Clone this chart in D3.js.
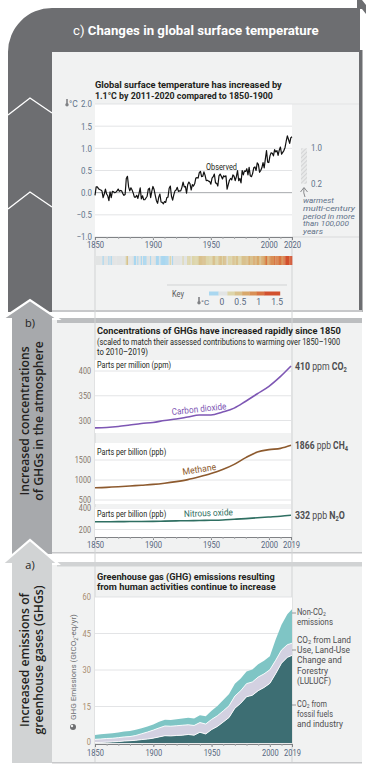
<!DOCTYPE html>
<html><head><meta charset="utf-8">
<script src="https://cdn.jsdelivr.net/npm/d3@7/dist/d3.min.js"></script>
<style>html,body{margin:0;padding:0;background:#fff;overflow:hidden}svg{display:block}</style>
</head><body>
<svg id="chart" width="366" height="768"></svg>
<script>
// ---------------- DATA ----------------
const tempStartYear = 1850;
const tempAnomaly = [
 -0.06,0.13,0.13,0.09,0.07,0.06,0.04,-0.11,-0.03,0.08,
 -0.03,-0.07,-0.18,0.02,-0.11,0.03,0.02,0.00,0.01,0.04,
 0.08,0.03,0.05,0.04,-0.02,-0.06,-0.04,0.32,0.37,0.13,
 0.04,0.11,0.06,-0.01,-0.10,-0.10,-0.06,-0.13,-0.02,0.11,
 -0.14,-0.07,-0.16,-0.16,-0.12,-0.08,0.08,0.10,-0.11,0.03,
 0.14,0.07,-0.06,-0.18,-0.24,-0.10,-0.03,-0.21,-0.22,-0.25,
 -0.20,-0.22,-0.11,-0.10,0.10,0.15,-0.08,-0.17,-0.05,0.04,
 0.06,0.12,0.03,0.04,0.04,0.12,0.24,0.13,0.14,-0.01,
 0.18,0.24,0.20,0.06,0.18,0.15,0.20,0.33,0.34,0.33,
 0.45,0.48,0.36,0.37,0.47,0.39,0.27,0.28,0.26,0.25,
 0.19,0.33,0.36,0.42,0.22,0.21,0.15,0.38,0.42,0.37,
 0.31,0.38,0.36,0.38,0.08,0.18,0.28,0.32,0.29,0.40,
 0.37,0.27,0.36,0.50,0.27,0.32,0.22,0.50,0.40,0.49,
 0.48,0.54,0.40,0.57,0.38,0.36,0.43,0.56,0.58,0.50,
 0.67,0.64,0.46,0.50,0.56,0.68,0.56,0.76,0.95,0.69,
 0.68,0.83,0.90,0.89,0.83,0.97,0.92,0.95,0.84,0.96,
 1.03,0.87,0.91,0.95,1.02,1.16,1.28,1.20,1.11,1.24,1.26
];
const tempTickYears = [1850,1900,1950,2000,2020];
const tempTicks = [2,1.5,1,0.5,0,-0.5,-1];
const warmPeriod = [0.2,1.0];
const warmText = ["warmest","multi-century","period in more","than 100,000","years"];
const keyTicks = [0,0.5,1,1.5];
const stripeBreaks = [-0.09,0.15,0.35,0.55,0.75,0.95,1.15];
const stripeColors = ['#a9d7f0','#e2e4e4','#ddd5aa','#d9c18d','#d8a86b','#d98f55','#d87342','#d2502e'];

const ghgYears = [1850,1860,1870,1880,1890,1900,1910,1920,1930,1940,1950,1960,1970,1980,1990,2000,2010,2019];
const co2ppm  = [285,286,288,291,294,296,300,303,307,311,311,317,325,339,354,369,389,410];
const ch4ppb  = [808,815,830,850,870,890,920,960,1010,1080,1160,1260,1390,1560,1700,1760,1790,1866];
const n2oppb  = [272,272,273,274,275,276,278,280,282,284,286,289,295,301,309,316,323,332];
const ghgTickYears = [1850,1900,1950,2000,2019];
const co2Ticks = [300,350,400];
const ch4Ticks = [500,1000,1500];
const n2oTicks = [200,400];

const emisYears  = [1850,1855,1860,1865,1870,1875,1880,1885,1890,1895,1900,1905,1910,1915,1920,1925,1930,1935,1940,1945,1950,1955,1960,1965,1970,1975,1980,1985,1990,1995,2000,2005,2010,2015,2019];
const emisFossil = [0.2,0.25,0.35,0.45,0.6,0.8,0.95,1.1,1.4,1.6,2.0,2.5,3.0,2.9,3.1,3.2,3.5,3.2,4.4,3.7,5.5,6.8,8.6,10.5,14.3,16.3,19.0,19.6,21.5,22.8,24.5,28.5,32.8,35.2,36.0];
const emisLand   = [1.3,1.4,1.5,1.5,1.6,1.7,1.7,2.0,2.4,2.9,3.3,3.7,4.0,4.0,4.0,4.1,4.0,4.0,4.0,4.1,4.2,4.4,4.6,4.8,5.0,5.2,5.4,5.5,5.6,5.6,5.6,5.5,5.4,5.2,5.0];
const emisNonCO2 = [1.8,1.9,2.0,2.1,2.1,2.2,2.3,2.3,2.3,2.3,2.3,2.5,2.6,2.6,2.7,2.8,2.9,2.9,3.0,3.2,3.6,4.0,4.5,4.8,5.0,5.0,5.0,5.1,5.3,5.4,5.6,8.5,10.4,12.5,14.0];
const emisTicks = [0,15,30,45,60];

// ---------------- SETUP ----------------
const FONT = "Roboto,'Liberation Sans',sans-serif";
const SANS = "'Open Sans','Noto Sans',sans-serif";
const svg = d3.select('#chart');
const DARK = '#231f20', GREY = '#58595b';

function fitX(t, x0, w, extra) {
  const L = t.node().getComputedTextLength();
  if (!w || !L) return t;
  const k = w / L;
  if (extra) t.attr('transform', `${extra} scale(${k},1)`);
  else t.attr('transform', `translate(${x0},0) scale(${k},1) translate(${-x0},0)`);
  return t;
}
function txt(g, x, y, s, o = {}) {
  const t = g.append('text').attr('x', x).attr('y', y).text(s)
    .attr('font-family', o.ff || FONT).attr('font-size', o.fs || 9)
    .attr('font-weight', o.fw || 'normal').attr('fill', o.fill || DARK)
    .attr('font-style', o.fst || 'normal')
    .attr('text-anchor', o.anchor || 'start');
  if (o.w) fitX(t, x, o.w);
  return t;
}
function condenseTicks(ax, k) {
  ax.selectAll('text').attr('transform', function () {
    const x = +d3.select(this).attr('x') || 0;
    return `translate(${x},0) scale(${k},1) translate(${-x},0)`;
  });
}

const defs = svg.append('defs');
const pat = defs.append('pattern').attr('id', 'hatch').attr('width', 3).attr('height', 3)
  .attr('patternUnits', 'userSpaceOnUse').attr('patternTransform', 'rotate(45)');
pat.append('rect').attr('width', 3).attr('height', 3).attr('fill', '#e9eaea');
pat.append('line').attr('x1', 0).attr('y1', 0).attr('x2', 0).attr('y2', 3).attr('stroke', '#c4c5c7').attr('stroke-width', 1.2);

// ---------------- FRAMES ----------------
svg.append('path').attr('d', 'M8,312 V52 A44,44 0 0 1 52,8 H360 V52 H52 V312 Z').attr('fill', '#6d6e71');
svg.append('rect').attr('x', 359).attr('y', 50).attr('width', 3.5).attr('height', 262).attr('fill', '#6d6e71');
svg.append('path').attr('d', 'M357,0 H362 L366,5 V14 L362,9 H357 Z').attr('fill', '#6d6e71');
svg.append('rect').attr('x', 52).attr('y', 52).attr('width', 307).attr('height', 258).attr('fill', '#f1f2f2');
svg.append('rect').attr('x', 52).attr('y', 310).attr('width', 310).attr('height', 2).attr('fill', '#c7c8ca');
[98, 192].forEach(t => {
  svg.append('path').attr('d', `M8,${t + 17} L30,${t} L52,${t + 15}`).attr('fill', 'none')
    .attr('stroke', '#fff').attr('stroke-width', 1.4);
});
const hdr = svg.append('text').attr('x', 73).attr('y', 35).attr('font-family', FONT)
  .attr('font-size', 12.5).attr('fill', '#fff');
hdr.append('tspan').text('c) ');
hdr.append('tspan').attr('font-weight', 'bold').text('Changes in global surface temperature');
fitX(hdr, 73, 246);

svg.append('rect').attr('x', 52).attr('y', 318).attr('width', 310).attr('height', 235).attr('fill', '#f1f2f2');
svg.append('rect').attr('x', 57).attr('y', 318).attr('width', 305).attr('height', 5).attr('fill', '#bcbec0');
svg.append('rect').attr('x', 52).attr('y', 552).attr('width', 310).attr('height', 1.5).attr('fill', '#c7c8ca');
svg.append('rect').attr('x', 52).attr('y', 562).attr('width', 310).attr('height', 201).attr('fill', '#f1f2f2');
svg.append('rect').attr('x', 57).attr('y', 562).attr('width', 305).attr('height', 4.5).attr('fill', '#d1d3d4');
svg.append('rect').attr('x', 52).attr('y', 762).attr('width', 310).attr('height', 1.5).attr('fill', '#c7c8ca');

[95, 292].forEach(x => svg.append('line').attr('x1', x).attr('x2', x).attr('y1', 237).attr('y2', 762)
  .attr('stroke', '#d1d3d4').attr('stroke-width', 1));

svg.append('path').attr('d', 'M2,319 L30,300 L58,319 Z').attr('fill', '#a7a9ac').attr('stroke', '#fff').attr('stroke-width', 2.2);
svg.append('rect').attr('x', 12).attr('y', 318).attr('width', 40).attr('height', 236).attr('fill', '#a7a9ac');
svg.append('path').attr('d', 'M2,564 L30,540 L58,564 Z').attr('fill', '#d1d3d4').attr('stroke', '#fff').attr('stroke-width', 2.2);
svg.append('rect').attr('x', 12).attr('y', 563).attr('width', 40).attr('height', 200).attr('fill', '#d1d3d4');
txt(svg, 30, 327, 'b)', { ff: SANS, fs: 11, anchor: 'middle', fill: DARK });
txt(svg, 30, 569, 'a)', { ff: SANS, fs: 11, anchor: 'middle', fill: DARK });

function rotText(x, y, s) {
  svg.append('text').attr('transform', `translate(${x},${y}) rotate(-90)`).attr('text-anchor', 'middle')
    .attr('font-family', SANS).attr('font-size', 12.2).attr('font-weight', 600).attr('fill', DARK).text(s);
}
rotText(29, 421, 'Increased concentrations');
rotText(43, 421, 'of GHGs in the atmosphere');
rotText(29, 660, 'Increased emissions of');
rotText(43, 660, 'greenhouse gases (GHGs)');

// ---------------- CHART C : temperature ----------------
const gC = svg.append('g');
const xT = d3.scaleLinear().domain([1850, 2020]).range([95, 292]);
const yT = d3.scaleLinear().domain([-1, 2]).range([237, 104]);
const tempData = tempAnomaly.map((v, i) => ({ year: tempStartYear + i, v }));
const TCOL = '#56677e';

txt(gC, 95, 88, 'Global surface temperature has increased by', { fw: 'bold', fs: 9.6, w: 187 });
txt(gC, 95, 99, '1.1°C by 2011-2020 compared to 1850-1900', { fw: 'bold', fs: 9.6, w: 178 });

gC.append('rect').attr('x', 95).attr('y', 104).attr('width', 197).attr('height', 133).attr('fill', '#fff');
gC.append('line').attr('x1', 292).attr('x2', 359).attr('y1', 104).attr('y2', 104).attr('stroke', '#e3e4e5');
gC.append('line').attr('x1', 292).attr('x2', 359).attr('y1', 237).attr('y2', 237).attr('stroke', '#d9dadb');
tempTicks.forEach(t => {
  gC.append('line').attr('x1', 95).attr('x2', 292).attr('y1', yT(t)).attr('y2', yT(t))
    .attr('stroke', t === 0 ? '#a7a9ac' : '#dcdddf').attr('stroke-width', t === 0 ? 1 : 0.8);
});
const yAxT = gC.append('g').attr('transform', 'translate(95,0)')
  .call(d3.axisLeft(yT).tickValues(tempTicks).tickSize(0).tickPadding(3)
    .tickFormat(d => (d < 0 ? '\u2212' : '') + Math.abs(d).toFixed(1)));
yAxT.select('.domain').remove();
yAxT.selectAll('text').attr('font-family', FONT).attr('font-size', 9).attr('fill', '#62748b');
condenseTicks(yAxT, 0.88);

function thermo(g, x, y) {
  g.append('rect').attr('x', x - 0.8).attr('y', y - 5).attr('width', 1.6).attr('height', 5).attr('fill', '#808285');
  g.append('circle').attr('cx', x).attr('cy', y + 0.8).attr('r', 1.7).attr('fill', '#808285');
}
thermo(gC, 67, 104);
txt(gC, 69, 107, '°C', { fs: 8.5, fill: '#62748b' });

const xAxT = gC.append('g').attr('transform', 'translate(0,237)')
  .call(d3.axisBottom(xT).tickValues(tempTickYears).tickSize(3).tickPadding(2).tickFormat(d3.format('d')));
xAxT.select('.domain').attr('stroke', '#808285');
xAxT.selectAll('line').attr('stroke', '#808285');
xAxT.selectAll('text').attr('font-family', FONT).attr('font-size', 9).attr('fill', TCOL);
condenseTicks(xAxT, 0.85);
gC.append('g').attr('transform', 'translate(0,237)')
  .call(d3.axisBottom(xT).tickValues(d3.range(1860, 2020, 10)).tickSize(2).tickFormat(''))
  .call(a => { a.select('.domain').remove(); a.selectAll('line').attr('stroke', '#a7a9ac'); });

gC.append('path').datum(tempData).attr('fill', 'none').attr('stroke', '#111').attr('stroke-width', 1.2)
  .attr('stroke-linejoin', 'round')
  .attr('d', d3.line().x(d => xT(d.year)).y(d => yT(d.v)));
txt(gC, 206, 170, 'Observed', { fs: 9, fill: DARK, w: 31 });

gC.append('rect').attr('x', 301).attr('y', yT(warmPeriod[1])).attr('width', 6)
  .attr('height', yT(warmPeriod[0]) - yT(warmPeriod[1])).attr('fill', 'url(#hatch)');
txt(gC, 311, yT(1.0) + 3, '1.0', { fs: 9, fill: '#62748b', w: 11 });
txt(gC, 311, yT(0.2) + 3, '0.2', { fs: 9, fill: '#62748b', w: 11 });
gC.append('path').attr('d', 'M300.5,192 L304,187.5 L307.5,192 M304,188 Q303,193 305,197').attr('fill', 'none')
  .attr('stroke', '#6d6e71').attr('stroke-width', 0.8);
const warmW = [31, 52, 52, 46, 20];
warmText.forEach((s, i) => txt(gC, 303, 203 + i * 7.8, s, { fs: 7.4, fst: 'italic', fill: '#5f7188', w: warmW[i] }));

const stripeColor = d3.scaleThreshold().domain(stripeBreaks).range(stripeColors);
gC.selectAll('rect.stripe').data(tempData).join('rect').attr('class', 'stripe')
  .attr('x', d => Math.max(xT(d.year - 0.5), 95))
  .attr('y', 256).attr('height', 9)
  .attr('width', d => Math.min(xT(d.year + 0.5), 292) - Math.max(xT(d.year - 0.5), 95) + 0.3)
  .attr('fill', d => stripeColor(d.v));

gC.append('line').attr('x1', 167).attr('x2', 287).attr('y1', 285).attr('y2', 285).attr('stroke', '#d1d3d4');
txt(gC, 172, 297, 'Key', { fs: 9, fill: GREY, w: 12 });
const xK = d3.scaleLinear().domain([-0.35, 1.58]).range([209, 280]);
const keyEdges = [-0.35, ...stripeBreaks, 1.58];
stripeColors.forEach((c, i) => {
  gC.append('rect').attr('x', xK(keyEdges[i])).attr('y', 291.5).attr('height', 4)
    .attr('width', xK(keyEdges[i + 1]) - xK(keyEdges[i]) + 0.2).attr('fill', c);
});
keyTicks.forEach(t => txt(gC, xK(t), 305, String(t), { fs: 8.5, anchor: 'middle', fill: TCOL }));
thermo(gC, 199, 302);
txt(gC, 201, 305, '°C', { fs: 8, fill: TCOL });

// ---------------- CHART B : concentrations ----------------
const gB = svg.append('g');
const BCOL = '#85766a';
const xB = d3.scaleLinear().domain([1850, 2019]).range([95, 291]);
const yCO2 = d3.scaleLinear().domain([300, 400]).range([420.5, 371]);
const yCH4 = d3.scaleLinear().domain([1000, 1500]).range([480, 460]);
const yN2O = d3.scaleLinear().domain([200, 400]).range([529.5, 508]);

txt(gB, 97, 334, 'Concentrations of GHGs have increased rapidly since 1850', { fw: 'bold', fs: 9.6, w: 244 });
txt(gB, 97, 345, '(scaled to match their assessed contributions to warming over 1850\u20131900', { fs: 8.4, w: 243 });
txt(gB, 97, 355, 'to 2010\u20132019)', { fs: 8.4, w: 51 });

[[360, 433], [443, 504], [507, 537]].forEach(([a, b]) =>
  gB.append('rect').attr('x', 95).attr('y', a).attr('width', 196).attr('height', b - a).attr('fill', '#fff'));

function gridAxis(scale, ticks) {
  ticks.forEach(t => gB.append('line').attr('x1', 95).attr('x2', 291).attr('y1', scale(t)).attr('y2', scale(t))
    .attr('stroke', '#dcdddf').attr('stroke-width', 0.8));
  const ax = gB.append('g').attr('transform', 'translate(95,0)')
    .call(d3.axisLeft(scale).tickValues(ticks).tickSize(0).tickPadding(4).tickFormat(d3.format('d')));
  ax.select('.domain').remove();
  ax.selectAll('text').attr('font-family', FONT).attr('font-size', 8.2).attr('fill', BCOL);
  condenseTicks(ax, 0.88);
}
gridAxis(yCO2, co2Ticks);
gridAxis(yCH4, ch4Ticks);
gridAxis(yN2O, n2oTicks);

txt(gB, 97, 368, 'Parts per million (ppm)', { fs: 8.4, w: 74 });
txt(gB, 97, 455, 'Parts per billion (ppb)', { fs: 8.4, w: 69 });
txt(gB, 97, 517, 'Parts per billion (ppb)', { fs: 8.4, w: 69 });

const ghgLine = (vals, scale) => d3.line().curve(d3.curveMonotoneX).x((d, i) => xB(ghgYears[i])).y(d => scale(d))(vals);
gB.append('path').attr('d', ghgLine(co2ppm, yCO2)).attr('fill', 'none').attr('stroke', '#7e57b4').attr('stroke-width', 1.6);
gB.append('path').attr('d', ghgLine(ch4ppb, yCH4)).attr('fill', 'none').attr('stroke', '#8d5a2e').attr('stroke-width', 1.6);
gB.append('path').attr('d', ghgLine(n2oppb, yN2O)).attr('fill', 'none').attr('stroke', '#2f6f62').attr('stroke-width', 1.6);

function lineLabel(s, col, tr, w) {
  const t = gB.append('text').attr('x', 0).attr('y', 0).attr('font-family', FONT).attr('font-size', 9.2).attr('fill', col).text(s);
  fitX(t, 0, w, tr);
}
lineLabel('Carbon dioxide', '#7e57b4', 'translate(172,415) rotate(-6)', 55);
lineLabel('Methane', '#8d5a2e', 'translate(183,475) rotate(-9)', 34);
lineLabel('Nitrous oxide', '#2f6f62', 'translate(184,517) rotate(-2)', 49);

function endLabel(y, num, unit, chem, sub, tail, w) {
  const t = gB.append('text').attr('x', 295).attr('y', y).attr('font-family', FONT).attr('font-size', 10.5).attr('fill', '#4d4d4f');
  t.append('tspan').attr('font-weight', 'bold').text(num);
  t.append('tspan').text(' ' + unit + ' ');
  t.append('tspan').attr('font-weight', 'bold').text(chem);
  t.append('tspan').attr('font-weight', 'bold').attr('font-size', 7).attr('dy', 2).text(sub);
  if (tail) t.append('tspan').attr('font-weight', 'bold').attr('dy', -2).text(tail);
  fitX(t, 295, w);
}
endLabel(yCO2(co2ppm[co2ppm.length - 1]) + 4, '410', 'ppm', 'CO', '2', '', 52);
endLabel(yCH4(ch4ppb[ch4ppb.length - 1]) + 4, '1866', 'ppb', 'CH', '4', '', 53);
endLabel(yN2O(n2oppb[n2oppb.length - 1]) + 4, '332', 'ppb', 'N', '2', 'O', 50);

const xAxB = gB.append('g').attr('transform', 'translate(0,537)')
  .call(d3.axisBottom(xB).tickValues(ghgTickYears).tickSize(3).tickPadding(2).tickFormat(d3.format('d')));
xAxB.select('.domain').attr('stroke', '#808285');
xAxB.selectAll('line').attr('stroke', '#808285');
xAxB.selectAll('text').attr('font-family', FONT).attr('font-size', 9).attr('fill', TCOL);
condenseTicks(xAxB, 0.85);
gB.append('g').attr('transform', 'translate(0,537)')
  .call(d3.axisBottom(xB).tickValues(d3.range(1860, 2019, 10)).tickSize(2).tickFormat(''))
  .call(a => { a.select('.domain').remove(); a.selectAll('line').attr('stroke', '#a7a9ac'); });

// ---------------- CHART A : emissions ----------------
const gA = svg.append('g');
const ACOL = '#a88c6e';
const xA = d3.scaleLinear().domain([1850, 2019]).range([95, 292]);
const yA = d3.scaleLinear().domain([0, 60]).range([743, 597]);

txt(gA, 97, 580, 'Greenhouse gas (GHG) emissions resulting', { fw: 'bold', fs: 9.6, w: 178 });
txt(gA, 97, 590, 'from human activities continue to increase', { fw: 'bold', fs: 9.6, w: 179 });

gA.append('rect').attr('x', 95).attr('y', 597).attr('width', 197).attr('height', 146).attr('fill', '#fff');
emisTicks.forEach(t => gA.append('line').attr('x1', 95).attr('x2', 292).attr('y1', yA(t)).attr('y2', yA(t))
  .attr('stroke', '#dcdddf').attr('stroke-width', 0.8));
const yAxA = gA.append('g').attr('transform', 'translate(95,0)')
  .call(d3.axisLeft(yA).tickValues(emisTicks).tickSize(0).tickPadding(4).tickFormat(d3.format('d')));
yAxA.select('.domain').remove();
yAxA.selectAll('text').attr('font-family', FONT).attr('font-size', 8.8).attr('fill', ACOL);
yAxA.selectAll('.tick').filter(d => d === 0).select('text').attr('dy', '0.12em');
condenseTicks(yAxA, 0.85);

const yt = gA.append('text').attr('x', 0).attr('y', 0).attr('text-anchor', 'middle')
  .attr('font-family', FONT).attr('font-size', 8).attr('fill', '#6d6e71');
yt.append('tspan').text('GHG Emissions (GtCO');
yt.append('tspan').attr('font-size', 5.5).attr('dy', 1.5).text('2');
yt.append('tspan').attr('dy', -1.5).text('-eq/yr)');
fitX(yt, 0, 106, 'translate(76,667) rotate(-90)');
gA.append('circle').attr('cx', 73).attr('cy', 727).attr('r', 3).attr('fill', '#6d6e71');
gA.append('circle').attr('cx', 72).attr('cy', 726).attr('r', 1.2).attr('fill', '#f1f2f2');

const emisRows = emisYears.map((y, i) => ({ year: y, fossil: emisFossil[i], land: emisLand[i], non: emisNonCO2[i] }));
const stack = d3.stack().keys(['fossil', 'land', 'non'])(emisRows);
const areaCols = { fossil: '#3d6e73', land: '#d3d1e1', non: '#7fc5c5' };
const area = d3.area().x(d => xA(d.data.year)).y0(d => yA(d[0])).y1(d => yA(d[1]));
stack.forEach(s => gA.append('path').datum(s).attr('fill', areaCols[s.key]).attr('d', area));
stack.slice(0, 2).forEach(s => gA.append('path').datum(s).attr('fill', 'none').attr('stroke', '#fff')
  .attr('stroke-width', 0.9).attr('d', d3.line().x(d => xA(d.data.year)).y(d => yA(d[1]))));

const xAxA = gA.append('g').attr('transform', 'translate(0,744)')
  .call(d3.axisBottom(xA).tickValues(ghgTickYears).tickSize(3).tickPadding(3).tickFormat(d3.format('d')));
xAxA.select('.domain').attr('stroke', '#808285');
xAxA.selectAll('line').attr('stroke', '#808285');
xAxA.selectAll('text').attr('font-family', FONT).attr('font-size', 8.8).attr('fill', TCOL);
condenseTicks(xAxA, 0.85);
gA.append('g').attr('transform', 'translate(0,744)')
  .call(d3.axisBottom(xA).tickValues(d3.range(1860, 2019, 10)).tickSize(2).tickFormat(''))
  .call(a => { a.select('.domain').remove(); a.selectAll('line').attr('stroke', '#a7a9ac'); });

function sideLabel(y0, lines, widths, tickY) {
  gA.append('line').attr('x1', 292).attr('x2', 296).attr('y1', tickY).attr('y2', tickY).attr('stroke', '#808285').attr('stroke-width', 0.8);
  lines.forEach((ln, i) => {
    const t = gA.append('text').attr('x', 297).attr('y', y0 + i * 10.2).attr('font-family', FONT)
      .attr('font-size', 8.8).attr('fill', '#4d4d4f');
    ln.forEach(seg => {
      if (seg.sub) t.append('tspan').attr('font-size', 6).attr('dy', 1.2).text(seg.t);
      else t.append('tspan').attr('dy', seg.back ? -1.2 : 0).text(seg.t);
    });
    fitX(t, 297, widths[i]);
  });
}
sideLabel(615, [[{ t: 'Non-CO' }, { t: '2', sub: true }], [{ t: 'emissions' }]], [29, 36], 613);
sideLabel(643, [[{ t: 'CO' }, { t: '2', sub: true }, { t: ' from Land', back: true }], [{ t: 'Use, Land-Use' }], [{ t: 'Change and' }], [{ t: 'Forestry' }], [{ t: '(LULUCF)' }]], [54, 53, 45, 31, 34], 650);
sideLabel(707, [[{ t: 'CO' }, { t: '2', sub: true }, { t: ' from', back: true }], [{ t: 'fossil fuels' }], [{ t: 'and industry' }]], [30, 36, 46], 705);
</script>
</body></html>
